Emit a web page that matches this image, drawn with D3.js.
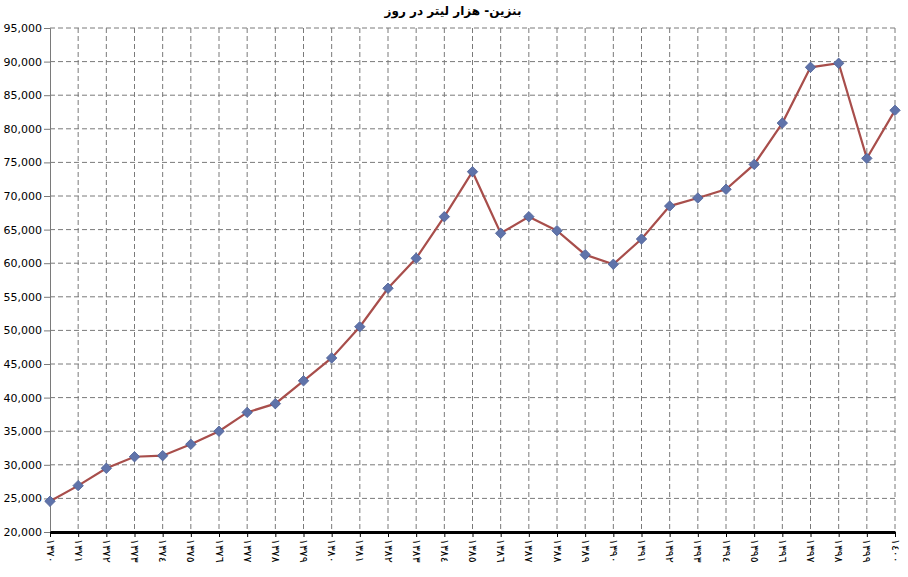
<!DOCTYPE html>
<html><head><meta charset="utf-8">
<script src="https://cdn.jsdelivr.net/npm/d3@7"></script>
<style>body{margin:0;background:#fff}svg{display:block}text{font-family:"DejaVu Sans",sans-serif}</style>
</head><body><svg id="c" width="908" height="577"></svg>
<script>
const title = "بنزین- هزار لیتر در روز";
const years = ["١٣٧٠","١٣٧١","١٣٧٢","١٣٧٣","١٣٧٤","١٣٧٥","١٣٧٦","١٣٧٧","١٣٧٨","١٣٧٩","١٣٨٠","١٣٨١","١٣٨٢","١٣٨٣","١٣٨٤","١٣٨٥","١٣٨٦","١٣٨٧","١٣٨٨","١٣٨٩","١٣٩٠","١٣٩١","١٣٩٢","١٣٩٣","١٣٩٤","١٣٩٥","١٣٩٦","١٣٩٧","١٣٩٨","١٣٩٩","١٤٠٠"];
const values = [24570,26900,29480,31200,31360,33050,35000,37800,39100,42500,45900,50550,56270,60730,66920,73620,64450,66920,64840,61270,59840,63600,68500,69700,71000,74700,80850,89150,89750,75600,82750];
const yTicks = [20000,25000,30000,35000,40000,45000,50000,55000,60000,65000,70000,75000,80000,85000,90000,95000];

const svg = d3.select("#c");
const L = 50, R = 895, T = 28, B = 532;
const x = d3.scalePoint().domain(years).range([L, R]);
const y = d3.scaleLinear().domain([20000, 95000]).range([B, T]);

// grid
svg.append("g").selectAll("line").data(yTicks.slice(1)).join("line")
  .attr("x1", L).attr("x2", R).attr("y1", d => y(d)).attr("y2", d => y(d))
  .attr("stroke", "#7a7a7a").attr("stroke-width", 1).attr("stroke-dasharray", "5,3");
svg.append("g").selectAll("line").data(years.slice(1)).join("line")
  .attr("x1", d => x(d)).attr("x2", d => x(d)).attr("y1", T).attr("y2", B)
  .attr("stroke", "#7a7a7a").attr("stroke-width", 1).attr("stroke-dasharray", "5,3");

// y axis
const yAxis = svg.append("g").attr("transform", `translate(${L},0)`)
  .call(d3.axisLeft(y).tickValues(yTicks).tickSize(6).tickPadding(2).tickFormat(d3.format(",")));
yAxis.select(".domain").attr("stroke", "#7a7a7a");
yAxis.selectAll(".tick line").attr("stroke", "#7a7a7a");
yAxis.selectAll("text").attr("font-size", 11).attr("fill", "#000");

// x axis
const xAxis = svg.append("g").attr("transform", `translate(0,${B})`)
  .call(d3.axisBottom(x).tickSize(5).tickSizeOuter(0));
xAxis.select(".domain").attr("stroke", "#000").attr("stroke-width", 3);
xAxis.selectAll(".tick line").attr("stroke", "#000");
xAxis.selectAll("text").attr("font-size", 11).attr("fill", "#000")
  .style("direction", "ltr").style("unicode-bidi", "bidi-override")
  .attr("transform", "rotate(90)").attr("text-anchor", "start")
  .attr("x", 7).attr("y", 0).attr("dy", "0.35em");

// line
svg.append("path").datum(values)
  .attr("fill", "none").attr("stroke", "#A84E4B").attr("stroke-width", 2.2)
  .attr("d", d3.line().x((d, i) => x(years[i])).y(d => y(d)));

// markers
svg.append("g").selectAll("path").data(values).join("path")
  .attr("transform", (d, i) => `translate(${x(years[i])},${y(d)})`)
  .attr("d", d3.symbol().type(d3.symbolDiamond2).size(70))
  .attr("fill", "#5F73AA").attr("stroke", "#4B5F96").attr("stroke-width", 0.8);

// title
svg.append("text").attr("x", 453).attr("y", 15).attr("text-anchor", "middle")
  .attr("font-size", 12).attr("font-weight", "bold").attr("direction", "rtl").text(title);
</script></body></html>
